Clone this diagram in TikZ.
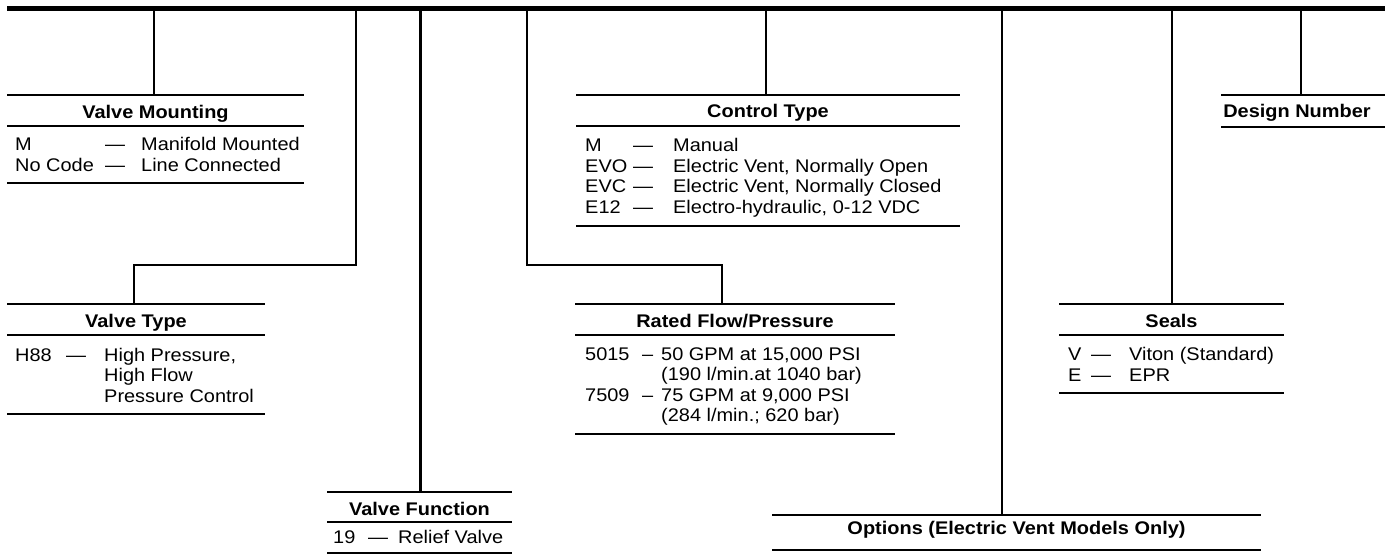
\documentclass[tikz,border=0pt]{standalone}
\usepackage{fontspec}
\setmainfont{Liberation Sans}[FakeStretch=1.09]
\usetikzlibrary{positioning}
\newcommand\cd[2]{\makebox[#1][l]{#2}}

\begin{document}
\begin{tikzpicture}[x=1pt,y=-1pt,
    every node/.style={font=\fontsize{18.3}{20.6}\selectfont, inner sep=0pt},
    bar/.style={line width=5pt},
    link/.style={line width=2.6pt},
    rule/.style={line width=1.3pt},
    title/.style={font=\fontsize{18.3}{20.6}\selectfont\bfseries, anchor=base},
    items/.style={align=left, anchor=base west}]

        \useasboundingbox (0,0) rectangle (1385,554);

        % Code bar
        \coordinate (barL) at (7,8);
        \coordinate (barR) at (1385,8);
        \draw[bar] (barL) -- (barR);

        % Hook points on the bar
        \coordinate (mountT) at (154,8);
        \coordinate (vtypeT) at (356,8);
        \coordinate (vfuncT) at (420.5,8);
        \coordinate (flowT) at (527,8);
        \coordinate (ctrlT) at (766,8);
        \coordinate (optsT) at (1002,8);
        \coordinate (sealsT) at (1172,8);
        \coordinate (designT) at (1301,8);

        % Valve Mounting (items placed at baseline of last line)
        \draw[rule] (7,95) -- (304,95) (7,126) -- (304,126) (7,183) -- (304,183);
        \coordinate (mount) at (154,95);
        \node[title] (mount-t) at (155.5,118.5) {Valve Mounting};
        \node[items] (mount-i) at (15,171.3)
            {\cd{90pt}{M}\cd{36pt}{—}Manifold Mounted\\
             \cd{90pt}{No Code}\cd{36pt}{—}Line Connected};
        \draw[link] (mountT) -- (mount);

        % Valve Type
        \draw[rule] (7,304) -- (265,304) (7,335) -- (265,335) (7,414) -- (265,414);
        \coordinate (vtypeK) at (356,265);
        \coordinate (vtype) at (134,304);
        \node[title] (vtype-t) at (136,327) {Valve Type};
        \node[items] (vtype-i) at (15,402.2)
            {\cd{51pt}{H88}\cd{38pt}{—}High Pressure,\\
             \cd{89pt}{}High Flow\\
             \cd{89pt}{}Pressure Control};
        \draw[link] (vtypeT) -- (vtypeK) -| (vtype);

        % Valve Function
        \draw[rule] (327,492) -- (512,492) (327,522) -- (512,522) (327,553) -- (512,553);
        \coordinate (vfunc) at (420.5,492);
        \node[title] (vfunc-t) at (419.5,515) {Valve Function};
        \node[items] (vfunc-i) at (333,543.3) {\cd{35pt}{19}\cd{30pt}{—}Relief Valve};
        \draw[link] (vfuncT) -- (vfunc);

        % Rated Flow/Pressure
        \draw[rule] (575,304) -- (895,304) (575,335) -- (895,335) (575,434) -- (895,434);
        \coordinate (flowK) at (527,265);
        \coordinate (flow) at (722,304);
        \node[title] (flow-t) at (735,327.7) {Rated Flow/Pressure};
        \node[items] (flow-i) at (585,421.8)
            {\cd{57pt}{5015}\cd{19pt}{–}50 GPM at 15,000 PSI\\
             \cd{76pt}{}(190 l/min.at 1040 bar)\\
             \cd{57pt}{7509}\cd{19pt}{–}75 GPM at 9,000 PSI\\
             \cd{76pt}{}(284 l/min.; 620 bar)};
        \draw[link] (flowT) -- (flowK) -| (flow);

        % Control Type
        \draw[rule] (576,95) -- (960,95) (576,126) -- (960,126) (576,226) -- (960,226);
        \coordinate (ctrl) at (766,95);
        \node[title] (ctrl-t) at (768,117.7) {Control Type};
        \node[items] (ctrl-i) at (585,213.5)
            {\cd{48pt}{M}\cd{40pt}{—}Manual\\
             \cd{48pt}{EVO}\cd{40pt}{—}Electric Vent, Normally Open\\
             \cd{48pt}{EVC}\cd{40pt}{—}Electric Vent, Normally Closed\\
             \cd{48pt}{E12}\cd{40pt}{—}Electro-hydraulic, 0-12 VDC};
        \draw[link] (ctrlT) -- (ctrl);

        % Options
        \draw[rule] (772,515) -- (1261,515) (772,550) -- (1261,550);
        \coordinate (opts) at (1002,515);
        \node[title] (opts-t) at (1016.5,534) {Options (Electric Vent Models Only)};
        \draw[link] (optsT) -- (opts);

        % Seals
        \draw[rule] (1059,304) -- (1284,304) (1059,335) -- (1284,335) (1059,393) -- (1284,393);
        \coordinate (seals) at (1172,304);
        \node[title] (seals-t) at (1171.5,327) {Seals};
        \node[items] (seals-i) at (1068,381.2)
            {\cd{23pt}{V}\cd{38pt}{—}Viton (Standard)\\
             \cd{23pt}{E}\cd{38pt}{—}EPR};
        \draw[link] (sealsT) -- (seals);

        % Design Number
        \draw[rule] (1221,95) -- (1385,95) (1221,127) -- (1385,127);
        \coordinate (design) at (1301,95);
        \node[title] (design-t) at (1297,117) {Design Number};
        \draw[link] (designT) -- (design);

\end{tikzpicture}
\end{document}
